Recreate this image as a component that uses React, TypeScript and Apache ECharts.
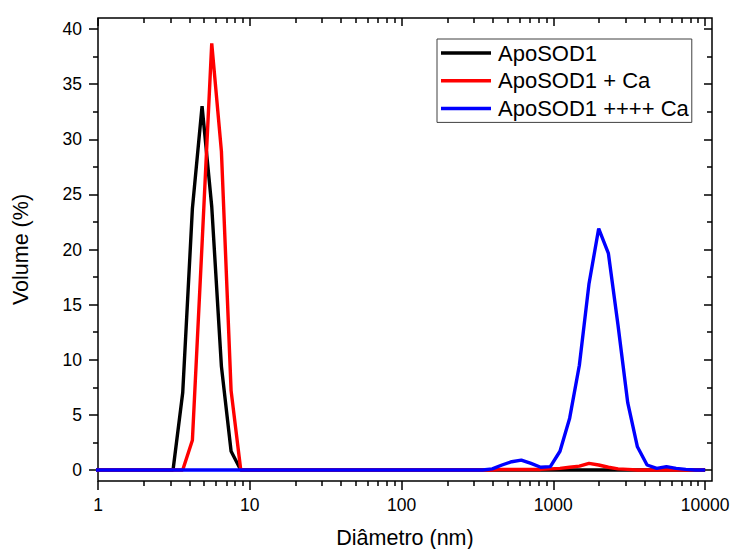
import React, { useEffect, useRef } from "react";
import * as echarts from "echarts";

// Zetasizer size bins (nm)
const diameters = [
  0.9649, 1.117, 1.294, 1.499, 1.736, 2.01, 2.328, 2.696, 3.122, 3.615,
  4.187, 4.849, 5.615, 6.503, 7.531, 8.721, 10.1, 11.7, 13.54, 15.69,
  18.17, 21.04, 24.36, 28.21, 32.67, 37.84, 43.82, 50.75, 58.77, 68.06,
  78.82, 91.28, 105.7, 122.4, 141.8, 164.2, 190.1, 220.2, 255.0, 295.3,
  342.0, 396.1, 458.7, 531.2, 615.1, 712.4, 825.0, 955.4, 1106, 1281,
  1484, 1718, 1990, 2305, 2669, 3091, 3580, 4145, 4801, 5560,
  6439, 7456, 8635, 10000,
];

const apo = [
  0, 0, 0, 0, 0, 0, 0, 0, 0, 7.0,
  23.7, 33.0, 23.9, 9.4, 1.7, 0, 0, 0, 0, 0,
  0, 0, 0, 0, 0, 0, 0, 0, 0, 0,
  0, 0, 0, 0, 0, 0, 0, 0, 0, 0,
  0, 0, 0, 0, 0, 0, 0, 0, 0, 0,
  0, 0, 0, 0, 0, 0, 0, 0, 0, 0,
  0, 0, 0, 0,
];

const apoCa = [
  0, 0, 0, 0, 0, 0, 0, 0, 0, 0,
  2.7, 20.5, 38.7, 28.9, 7.2, 0, 0, 0, 0, 0,
  0, 0, 0, 0, 0, 0, 0, 0, 0, 0,
  0, 0, 0, 0, 0, 0, 0, 0, 0, 0,
  0, 0, 0.05, 0.05, 0.05, 0.05, 0.05, 0.1, 0.15, 0.25,
  0.35, 0.6, 0.45, 0.25, 0.1, 0.05, 0, 0, 0, 0,
  0, 0, 0, 0,
];

const apoCa4 = [
  0, 0, 0, 0, 0, 0, 0, 0, 0, 0,
  0, 0, 0, 0, 0, 0, 0, 0, 0, 0,
  0, 0, 0, 0, 0, 0, 0, 0, 0, 0,
  0, 0, 0, 0, 0, 0, 0, 0, 0, 0,
  0, 0.1, 0.45, 0.75, 0.9, 0.6, 0.25, 0.3, 1.7, 4.7,
  9.5, 16.9, 21.9, 19.65, 13.1, 6.1, 2.1, 0.45, 0.15, 0.3,
  0.15, 0.05, 0, 0,
];

const seriesNames = ["ApoSOD1", "ApoSOD1 + Ca", "ApoSOD1 ++++ Ca"];
const seriesColors = ["#000000", "#ff0000", "#0000ff"];

const xMajorTicks = [1, 10, 100, 1000, 10000];
const xMinorTicks = [
  2, 3, 4, 5, 6, 7, 8, 9,
  20, 30, 40, 50, 60, 70, 80, 90,
  200, 300, 400, 500, 600, 700, 800, 900,
  2000, 3000, 4000, 5000, 6000, 7000, 8000, 9000,
];
const yMajorTicks = [0, 5, 10, 15, 20, 25, 30, 35, 40];
const yMinorTicks = [2.5, 7.5, 12.5, 17.5, 22.5, 27.5, 32.5, 37.5];

const FONT = '"Liberation Sans", Arial, Helvetica, sans-serif';
const X_MIN = 1;
const X_MAX = 11100;
const Y_MIN = -1;
const Y_MAX = 41;

export default function App() {
  const ref = useRef<HTMLDivElement>(null);

  useEffect(() => {
    document.body.style.margin = "0";
    if (!ref.current) return;
    const chart = echarts.init(ref.current, undefined, { renderer: "svg" });

    const tickLine = { color: "#000", width: 1.5 };
    const baseX = {
      type: "log" as const,
      min: X_MIN,
      max: X_MAX,
      logBase: 10,
      splitLine: { show: false },
      axisLine: { show: false, onZero: false },
    };
    const baseY = {
      type: "value" as const,
      min: Y_MIN,
      max: Y_MAX,
      splitLine: { show: false },
      axisLine: { show: false, onZero: false },
    };

    const makeData = (vals: number[]) => diameters.map((d, i) => [d, vals[i]]);
    const allVals = [apo, apoCa, apoCa4];

    chart.setOption({
      animation: false,
      backgroundColor: "#ffffff",
      textStyle: { fontFamily: FONT },
      grid: {
        left: 98,
        right: 20,
        top: 18,
        bottom: 68,
        containLabel: false,
        outerBoundsMode: "none",
        show: true,
        borderColor: "#000",
        borderWidth: 1.5,
        backgroundColor: "transparent",
      },
      legend: {
        orient: "vertical",
        left: 437,
        top: 39,
        padding: [3, 3, 3, 4],
        icon: "rect",
        itemWidth: 50,
        itemHeight: 3.5,
        itemGap: 5.7,
        borderColor: "#404040",
        borderWidth: 1,
        selectedMode: false,
        data: seriesNames,
        textStyle: { fontSize: 22, color: "#000", fontFamily: FONT, padding: [0, 0, 0, 2] },
      },
      xAxis: [
        {
          ...baseX,
          position: "bottom",
          name: "Diâmetro (nm)",
          nameLocation: "middle",
          nameGap: 46,
          nameTextStyle: { fontSize: 21.5, color: "#000", fontFamily: FONT },
          axisTick: { show: true, length: 9, customValues: xMajorTicks, lineStyle: tickLine },
          axisLabel: {
            show: true,
            customValues: xMajorTicks,
            margin: 15,
            fontSize: 17.5,
            color: "#000",
            fontFamily: FONT,
            formatter: (v: number) => String(Math.round(v)),
          },
        },
        {
          ...baseX,
          position: "bottom",
          axisTick: { show: true, length: 5, customValues: xMinorTicks, lineStyle: tickLine },
          axisLabel: { show: false },
        },
        {
          ...baseX,
          position: "top",
          axisTick: { show: true, inside: true, length: 8, customValues: xMajorTicks, lineStyle: tickLine },
          axisLabel: { show: false },
        },
        {
          ...baseX,
          position: "top",
          axisTick: { show: true, inside: true, length: 5, customValues: xMinorTicks, lineStyle: tickLine },
          axisLabel: { show: false },
        },
      ],
      yAxis: [
        {
          ...baseY,
          position: "left",
          name: "Volume (%)",
          nameLocation: "middle",
          nameGap: 66,
          nameTextStyle: { fontSize: 21.5, color: "#000", fontFamily: FONT },
          axisTick: { show: true, length: 9, customValues: yMajorTicks, lineStyle: tickLine },
          axisLabel: {
            show: true,
            customValues: yMajorTicks,
            margin: 16,
            fontSize: 17.5,
            color: "#000",
            fontFamily: FONT,
          },
        },
        {
          ...baseY,
          position: "left",
          axisTick: { show: true, length: 5, customValues: yMinorTicks, lineStyle: tickLine },
          axisLabel: { show: false },
        },
        {
          ...baseY,
          position: "right",
          axisTick: { show: true, inside: true, length: 8, customValues: yMajorTicks, lineStyle: tickLine },
          axisLabel: { show: false },
        },
        {
          ...baseY,
          position: "right",
          axisTick: { show: true, inside: true, length: 5, customValues: yMinorTicks, lineStyle: tickLine },
          axisLabel: { show: false },
        },
      ],
      series: seriesNames.map((name, i) => ({
        name,
        type: "line",
        xAxisIndex: 0,
        yAxisIndex: 0,
        data: makeData(allVals[i]),
        symbol: "none",
        showSymbol: false,
        clip: true,
        z: 2 + i,
        color: seriesColors[i],
        lineStyle: { color: seriesColors[i], width: 3.4 },
        itemStyle: { color: seriesColors[i] },
      })),
    });

    return () => chart.dispose();
  }, []);

  return <div ref={ref} style={{ width: 732, height: 549, overflow: "hidden" }} />;
}
